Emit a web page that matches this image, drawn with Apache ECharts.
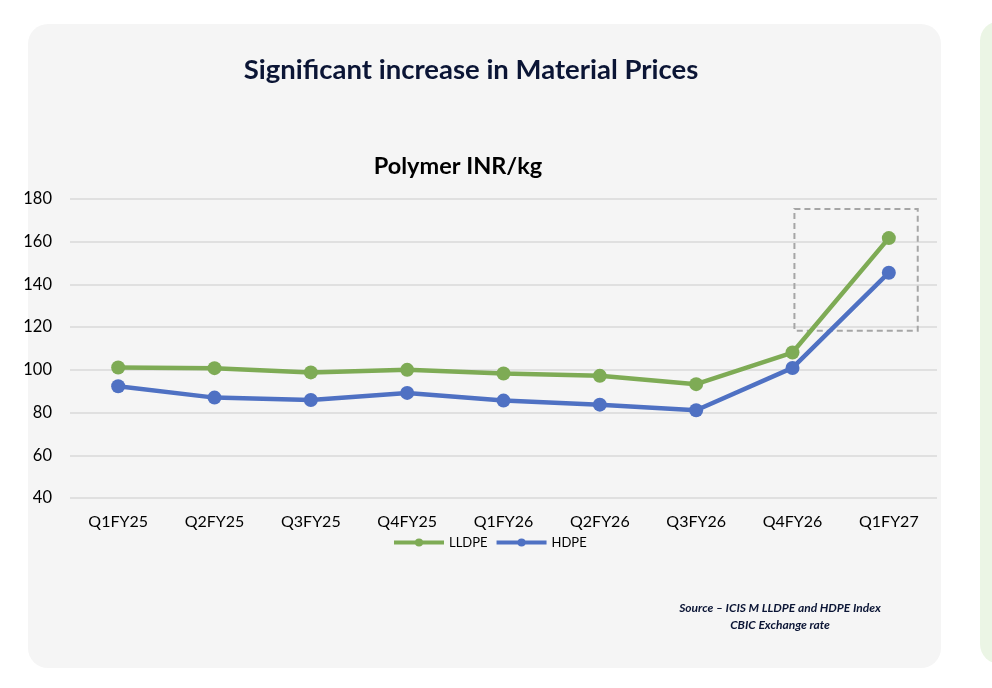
<!DOCTYPE html>
<html>
<head>
<meta charset="utf-8">
<script src="https://cdn.jsdelivr.net/npm/echarts@6/dist/echarts.min.js"></script>
<style>
  html, body { margin: 0; padding: 0; background: #ffffff; }
  #wrap { position: relative; width: 992px; height: 688px; overflow: hidden; }
  .panel { position: absolute; left: 28px; top: 24px; width: 913px; height: 644px; background: #f5f5f5; border-radius: 20px; }
  .side { position: absolute; left: 980px; top: 21px; width: 60px; height: 643px; background: #ebf5e5; border-radius: 20px; }
  #chart { position: absolute; left: 0; top: 0; width: 992px; height: 688px; }
</style>
</head>
<body>
<div id="wrap">
  <div class="panel"></div>
  <div class="side"></div>
  <div id="chart"></div>
</div>
<script>
const categories = ['Q1FY25', 'Q2FY25', 'Q3FY25', 'Q4FY25', 'Q1FY26', 'Q2FY26', 'Q3FY26', 'Q4FY26', 'Q1FY27'];
const lldpe = [101.1, 100.8, 98.8, 100.0, 98.3, 97.2, 93.3, 108.1, 161.7];
const hdpe = [92.3, 87.0, 85.9, 89.2, 85.6, 83.7, 81.1, 100.9, 145.5];
const yTicks = { min: 40, max: 180, interval: 20 };
// highlighted range, in axis units (category slot position, INR/kg)
const boxX = [7.52, 8.8];
const boxY = [118.3, 175.3];

const chart = echarts.init(document.getElementById('chart'));
const font = 'Lato, "Open Sans", sans-serif';

chart.setOption({
  backgroundColor: 'transparent',
  textStyle: { fontFamily: font },
  title: [
    {
      text: 'Significant increase in Material Prices',
      left: 466, top: 51, textAlign: 'center',
      textStyle: { fontSize: 27.5, fontWeight: 'bold', color: '#0b1535', fontFamily: font }
    },
    {
      text: 'Polymer INR/kg',
      left: 453, top: 149, textAlign: 'center',
      textStyle: { fontSize: 23.5, fontWeight: 'bold', color: '#000000', fontFamily: font }
    },
    {
      text: 'Source – ICIS M LLDPE and HDPE Index\nCBIC Exchange rate',
      left: 775, top: 595, textAlign: 'center',
      textStyle: { fontSize: 12, fontWeight: 'bold', fontStyle: 'italic', color: '#0b1535', lineHeight: 17, fontFamily: font, align: 'center' }
    }
  ],
  legend: {
    data: ['LLDPE', 'HDPE'],
    left: 392, top: 536, padding: 0,
    itemWidth: 50, itemHeight: 10, itemGap: 7,
    lineStyle: { width: 4 },
    textStyle: { fontSize: 13, color: '#000000', fontFamily: font }
  },
  grid: { left: 70, right: 55, top: 199, bottom: 190, containLabel: false },
  xAxis: [
    {
      type: 'category',
      data: categories,
      boundaryGap: true,
      axisLine: { show: false },
      axisTick: { show: false },
      axisLabel: { color: '#000000', fontSize: 16, margin: 16, fontFamily: font }
    },
    { type: 'value', min: 0, max: categories.length, show: false }
  ],
  yAxis: {
    type: 'value',
    min: yTicks.min, max: yTicks.max, interval: yTicks.interval,
    axisLine: { show: false },
    axisTick: { show: false },
    axisLabel: { color: '#000000', fontSize: 16.5, margin: 18, fontFamily: font },
    splitLine: { lineStyle: { color: '#d9d9d9', width: 1.5 } }
  },
  series: [
    {
      name: 'LLDPE', type: 'line', data: lldpe,
      symbol: 'circle', symbolSize: 14,
      lineStyle: { color: '#7eab55', width: 4.5 },
      itemStyle: { color: '#7eab55' },
      z: 3
    },
    {
      name: 'HDPE', type: 'line', data: hdpe,
      symbol: 'circle', symbolSize: 14,
      lineStyle: { color: '#4f71c3', width: 4.5 },
      itemStyle: { color: '#4f71c3' },
      z: 4
    },
    {
      type: 'line', xAxisIndex: 1, data: [], silent: true,
      markArea: {
        silent: true,
        itemStyle: { color: 'rgba(0,0,0,0)', borderColor: '#a6a6a6', borderWidth: 2, borderType: [6, 4] },
        data: [[{ coord: [boxX[0], boxY[1]] }, { coord: [boxX[1], boxY[0]] }]]
      }
    }
  ]
});
</script>
</body>
</html>
